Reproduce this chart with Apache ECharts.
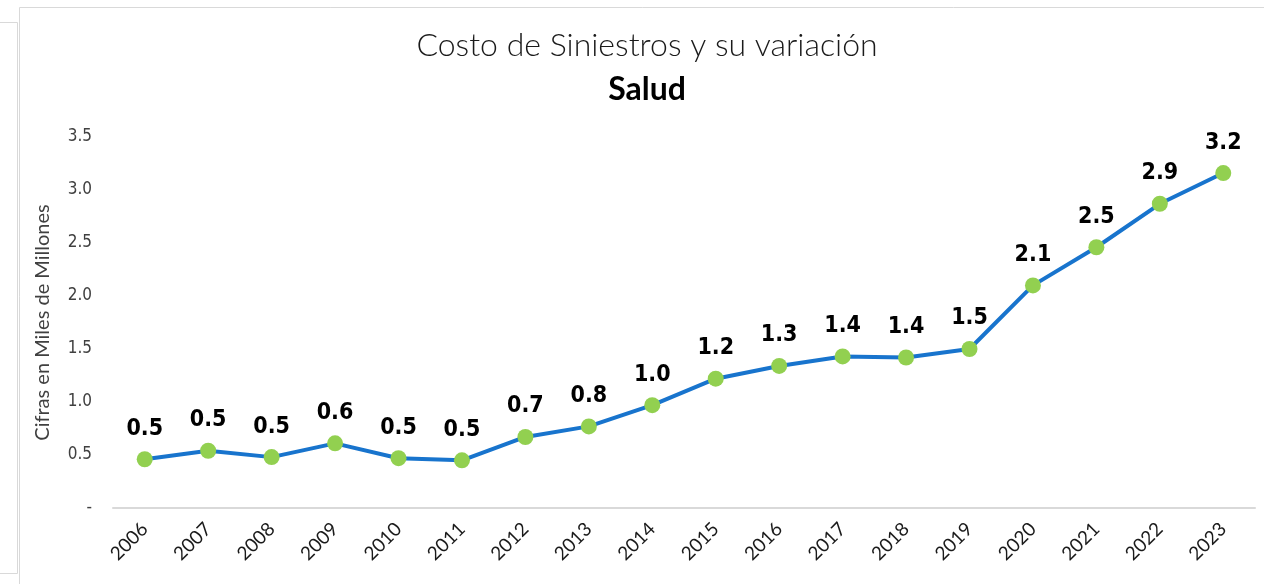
<!DOCTYPE html>
<html>
<head>
<meta charset="utf-8">
<script src="https://cdn.jsdelivr.net/npm/echarts@6/dist/echarts.min.js"></script>
<style>
  html, body { margin: 0; padding: 0; background: #fff; }
  #chart { width: 1264px; height: 584px; }
</style>
</head>
<body>
<div id="chart"></div>
<script>
// datos
var years = ['2006', '2007', '2008', '2009', '2010', '2011', '2012', '2013', '2014',
  '2015', '2016', '2017', '2018', '2019', '2020', '2021', '2022', '2023']
var costo = [0.46, 0.54, 0.48, 0.61, 0.47, 0.45, 0.67, 0.77, 0.97,
  1.22, 1.34, 1.43, 1.42, 1.50, 2.10, 2.46, 2.87, 3.16]

var chart = echarts.init(document.getElementById('chart'))

var option = {
  backgroundColor: '#fff',
  title: {
    text: 'Costo de Siniestros y su variación',
    subtext: 'Salud',
    left: 642,
    textAlign: 'center',
    top: 25,
    itemGap: 12,
    textStyle: {
      fontFamily: 'Lato',
      fontWeight: 300,
      fontSize: 32,
      color: '#1a1a1a'
    },
    subtextStyle: {
      fontFamily: 'Lato',
      fontWeight: 'bold',
      fontSize: 32,
      color: '#000'
    }
  },
  graphic: [
    {
      type: 'rect',
      shape: { x: -2, y: 22.5, width: 19.5, height: 551 },
      style: { fill: '#fff', stroke: '#d9d9d9', lineWidth: 1 }
    },
    {
      type: 'rect',
      shape: { x: 19.5, y: 7.5, width: 1260, height: 600 },
      style: { fill: 'none', stroke: '#d9d9d9', lineWidth: 1 },
      z: -1
    }
  ],
  grid: {
    left: 113,
    right: 9,
    top: 137,
    bottom: 76
  },
  xAxis: {
    type: 'category',
    data: years,
    boundaryGap: true,
    axisLine: { lineStyle: { color: '#d9d9d9', width: 2 } },
    axisTick: { show: false },
    axisLabel: {
      rotate: 45,
      margin: 18,
      fontFamily: 'Lato',
      fontSize: 19,
      color: '#1a1a1a'
    }
  },
  yAxis: {
    type: 'value',
    min: 0,
    max: 3.5,
    interval: 0.5,
    name: 'Cifras en Miles de Millones',
    nameLocation: 'middle',
    nameGap: 60,
    nameTextStyle: {
      fontFamily: 'Lato',
      fontSize: 20,
      color: '#404040'
    },
    axisLine: { show: false },
    axisTick: { show: false },
    splitLine: { show: false },
    axisLabel: {
      margin: 21,
      fontFamily: 'DejaVu Sans Condensed, DejaVu Sans, sans-serif',
      fontSize: 17,
      color: '#404040',
      formatter: function (v) {
        return v === 0 ? '-' : v.toFixed(1)
      }
    }
  },
  series: [
    {
      type: 'line',
      data: costo,
      symbol: 'circle',
      symbolSize: 16,
      lineStyle: { color: '#1874cd', width: 4 },
      itemStyle: { color: '#92d050' },
      label: {
        show: true,
        position: 'top',
        distance: 11,
        fontFamily: 'DejaVu Sans Condensed, DejaVu Sans, sans-serif',
        fontWeight: 'bold',
        fontSize: 23,
        color: '#000',
        formatter: function (p) {
          return p.value.toFixed(1)
        }
      }
    }
  ]
}

chart.setOption(option)
window.onresize = function () {
  chart.resize()
}
</script>
</body>
</html>
